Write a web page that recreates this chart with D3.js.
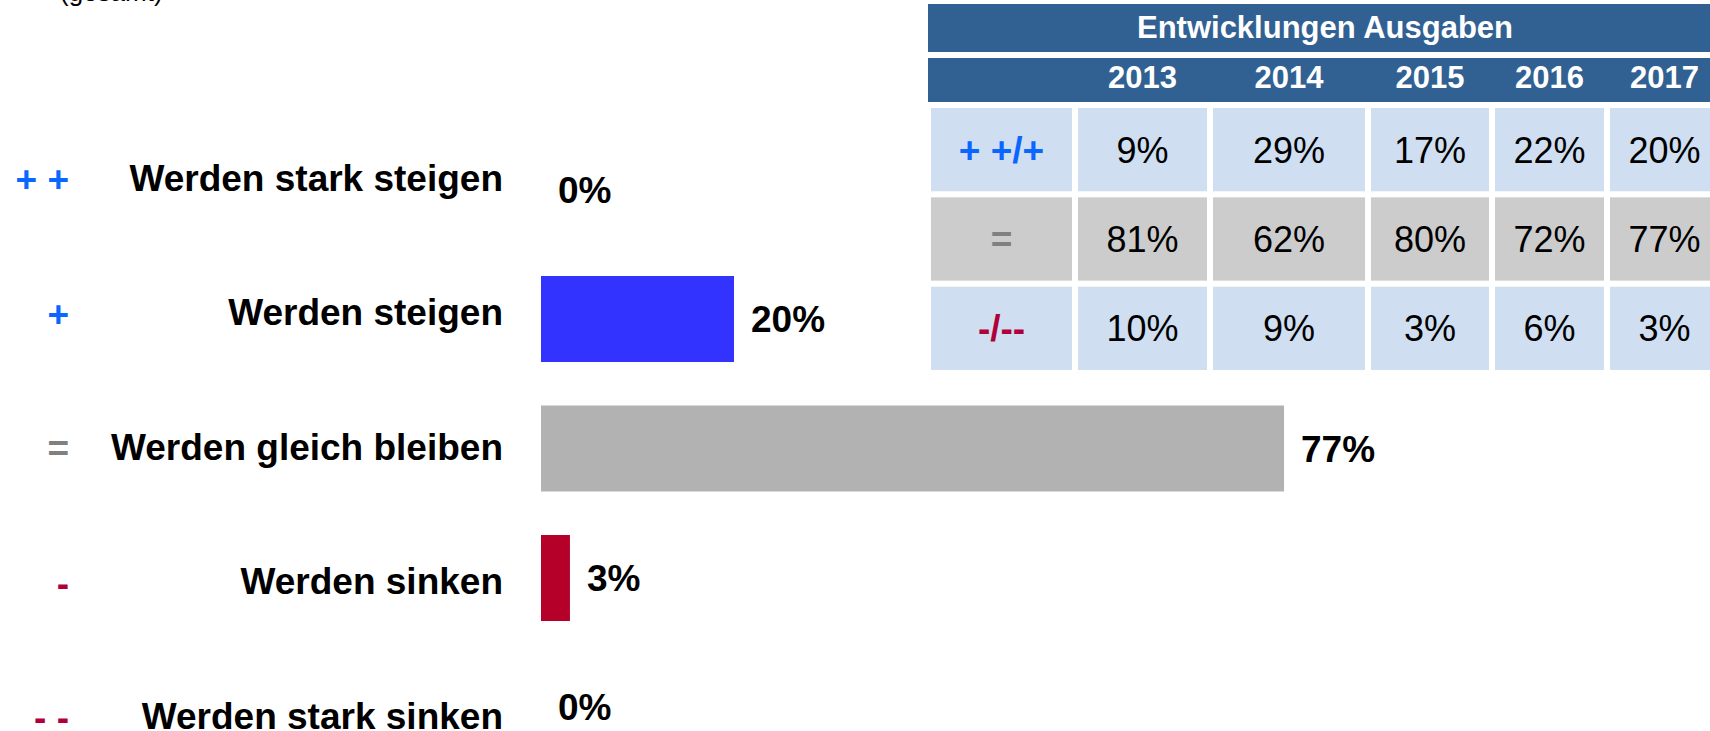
<!DOCTYPE html>
<html>
<head>
<meta charset="utf-8">
<script src="https://cdn.jsdelivr.net/npm/d3@7"></script>
<style>
html,body{margin:0;padding:0;background:#fff;overflow:hidden;}
svg{display:block;font-family:"Liberation Sans",Arial,sans-serif;}
</style>
</head>
<body>
<svg id="chart" width="1710" height="731"></svg>
<script>
// ---- data ----
const categories = ["Werden stark steigen","Werden steigen","Werden gleich bleiben","Werden sinken","Werden stark sinken"];
const symbols = ["+ +","+","=","-","- -"];
const symbolColors = ["#0a66ff","#0a66ff","#808080","#b0003a","#b0003a"];
const values = [0,20,77,3,0];
const barColors = ["#3333ff","#3333ff","#b2b2b2","#b5002a","#b5002a"];

const tableTitle = "Entwicklungen Ausgaben";
const years = ["2013","2014","2015","2016","2017"];
const rowLabels = ["+ +/+","=","-/--"];
const rowLabelColors = ["#0a66ff","#808080","#b0003a"];
const rowFills = ["#cfdef0","#cccccc","#cfdef0"];
const rowUp = [9,29,17,22,20];
const rowSame = [81,62,80,72,77];
const rowDown = [10,9,3,6,3];
const tableRows = [rowUp,rowSame,rowDown];

// ---- layout ----
const svg = d3.select("#chart");
const fmt = v => v + "%";

// partial cut-off caption at the top
svg.append("text").attr("x",60).attr("y",1)
  .attr("font-size",26).attr("fill","#000").text("(gesamt)");

const x = d3.scaleLinear().domain([0,100]).range([541,1506]);
const yBar = d3.scaleBand().domain(categories).range([103,794]).paddingInner(0.336).paddingOuter(0.336);
const yLab = d3.scalePoint().domain(categories).range([177,715]);

// bars
svg.append("g").selectAll("rect").data(categories).join("rect")
  .attr("x", x(0))
  .attr("y", d => yBar(d))
  .attr("width", (d,i) => x(values[i]) - x(0))
  .attr("height", yBar.bandwidth())
  .attr("fill", (d,i) => barColors[i]);

// value labels
svg.append("g").selectAll("text").data(categories).join("text")
  .attr("x", (d,i) => x(values[i]) + 17)
  .attr("y", d => yBar(d) + yBar.bandwidth()/2 + 13)
  .attr("font-size",37).attr("font-weight","bold").attr("fill","#000")
  .text((d,i) => fmt(values[i]));

// category labels
svg.append("g").selectAll("text").data(categories).join("text")
  .attr("x",503).attr("y", d => yLab(d) + 13.5)
  .attr("text-anchor","end")
  .attr("font-size",37).attr("font-weight","bold").attr("fill","#000")
  .text(d => d);

// symbols
svg.append("g").selectAll("text").data(categories).join("text")
  .attr("x",69).attr("y", d => yLab(d) + 15)
  .attr("text-anchor","end")
  .attr("font-size",37).attr("font-weight","bold")
  .attr("fill",(d,i) => symbolColors[i])
  .text((d,i) => symbols[i]);

// ---- table ----
const colNames = ["label"].concat(years);
const colWidths = [141,129,152,118,109,109];
const colGap = 6;
const colX = [];
{ let cx = 931; colWidths.forEach(w => { colX.push(cx); cx += w + colGap; }); }
const tableLeft = 928, tableRight = 1722;
const headerBlue = "#316192";

const t = svg.append("g");
// title band
t.append("rect").attr("x",tableLeft).attr("y",4).attr("width",tableRight-tableLeft).attr("height",48).attr("fill",headerBlue);
t.append("text").attr("x",(tableLeft+tableRight)/2).attr("y",38)
  .attr("text-anchor","middle").attr("font-size",31).attr("font-weight","bold").attr("fill","#fff")
  .text(tableTitle);
// years band
t.append("rect").attr("x",tableLeft).attr("y",58).attr("width",tableRight-tableLeft).attr("height",44).attr("fill",headerBlue);
t.selectAll("text.yr").data(years).join("text").attr("class","yr")
  .attr("x",(d,i) => colX[i+1] + colWidths[i+1]/2)
  .attr("y",88)
  .attr("text-anchor","middle").attr("font-size",31).attr("font-weight","bold").attr("fill","#fff")
  .text(d => d);

// body rows
const rowTop = d3.scaleBand().domain(rowLabels).range([108,370]).paddingInner(0.068);
rowLabels.forEach((lab,r) => {
  const g = t.append("g");
  const y0 = rowTop(lab), h = rowTop.bandwidth();
  g.selectAll("rect").data(colNames).join("rect")
    .attr("x",(d,i) => colX[i]).attr("y",y0)
    .attr("width",(d,i) => colWidths[i]).attr("height",h)
    .attr("fill",rowFills[r]);
  g.append("text").attr("x",colX[0]+colWidths[0]/2).attr("y",y0+h/2+13)
    .attr("text-anchor","middle").attr("font-size",37).attr("font-weight","bold")
    .attr("fill",rowLabelColors[r]).text(lab);
  g.selectAll("text.v").data(tableRows[r]).join("text").attr("class","v")
    .attr("x",(d,i) => colX[i+1]+colWidths[i+1]/2).attr("y",y0+h/2+13)
    .attr("text-anchor","middle").attr("font-size",36).attr("fill","#000")
    .text(d => fmt(d));
});
</script>
</body>
</html>
